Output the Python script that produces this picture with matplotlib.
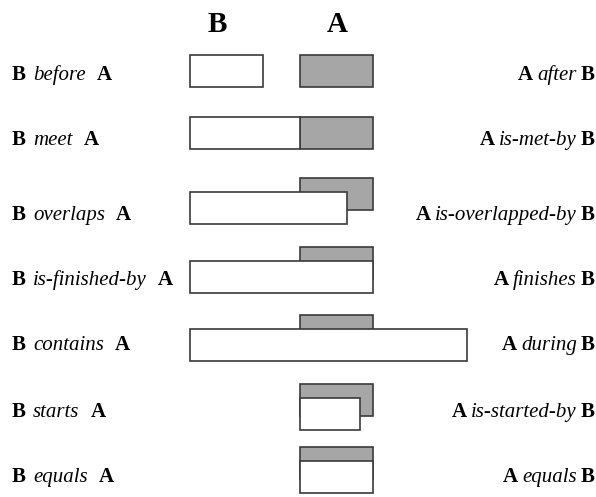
import matplotlib
matplotlib.use("Agg")
import matplotlib.pyplot as plt
from matplotlib.patches import Rectangle

# ---- data ----
relations_left = ["before", "meet", "overlaps", "is-finished-by", "contains", "starts", "equals"]
relations_right = ["after", "is-met-by", "is-overlapped-by", "finishes", "during", "is-started-by", "equals"]
a_start = [3, 3, 3, 3, 3, 3, 3]
a_end = [5, 5, 5, 5, 5, 5, 5]
b_start = [0, 0, 0, 0, 0, 3, 3]
b_end = [2, 3, 4.3, 5, 7.6, 4.66, 5]
a_raised = [False, False, True, True, True, True, True]
headers = ["B", "A"]

# ---- layout (pixels) ----
W, H = 596, 497
X0, UNIT = 190.0, 36.5
row_bottom = [87, 149, 224, 293, 361, 430, 493]
label_base = [80, 145, 220, 285, 350, 417, 482]
box_h = 32
raise_px = 14
header_x = [217, 337]
header_base = 32
FONT = "Liberation Serif"
FS = 15
edge = "#3a3a3a"
gray = "#a6a6a6"

def px2x(px):
    return (px - X0) / UNIT

fig = plt.figure(figsize=(W / 100, H / 100), dpi=100)
ax = fig.add_axes([0, 0, 1, 1])
ax.set_xlim(px2x(0), px2x(W))
ax.set_ylim(H, 0)
ax.axis("off")

for i in range(len(relations_left)):
    yb = row_bottom[i]
    ya_bot = yb - raise_px if a_raised[i] else yb
    ax.add_patch(Rectangle((a_start[i], ya_bot - box_h), a_end[i] - a_start[i], box_h,
                           facecolor=gray, edgecolor=edge, lw=1.2, zorder=2))
    ax.add_patch(Rectangle((b_start[i], yb - box_h), b_end[i] - b_start[i], box_h,
                           facecolor="white", edgecolor=edge, lw=1.2, zorder=3))

for hx, ht in zip(header_x, headers):
    ax.text(px2x(hx), header_base, ht, ha="center", va="baseline",
            fontsize=21, fontweight="bold", family=FONT)

for i in range(len(relations_left)):
    yb = label_base[i]
    t1 = ax.text(px2x(12), yb, "B", ha="left", va="baseline", fontsize=FS,
                 fontweight="bold", family=FONT)
    t2 = ax.annotate(relations_left[i], xy=(1, 0), xycoords=t1, xytext=(5, 0),
                     textcoords="offset points", ha="left", va="bottom",
                     fontsize=FS, fontstyle="italic", family=FONT)
    ax.annotate("A", xy=(1, 0), xycoords=t2, xytext=(8, 0),
                textcoords="offset points", ha="left", va="bottom",
                fontsize=FS, fontweight="bold", family=FONT)

    r1 = ax.text(px2x(595), yb, "B", ha="right", va="baseline", fontsize=FS,
                 fontweight="bold", family=FONT)
    r2 = ax.annotate(relations_right[i], xy=(0, 0), xycoords=r1, xytext=(-3, 0),
                     textcoords="offset points", ha="right", va="bottom",
                     fontsize=FS, fontstyle="italic", family=FONT)
    ax.annotate("A", xy=(0, 0), xycoords=r2, xytext=(-3, 0),
                textcoords="offset points", ha="right", va="bottom",
                fontsize=FS, fontweight="bold", family=FONT)

fig.savefig("out.png", dpi=100)
